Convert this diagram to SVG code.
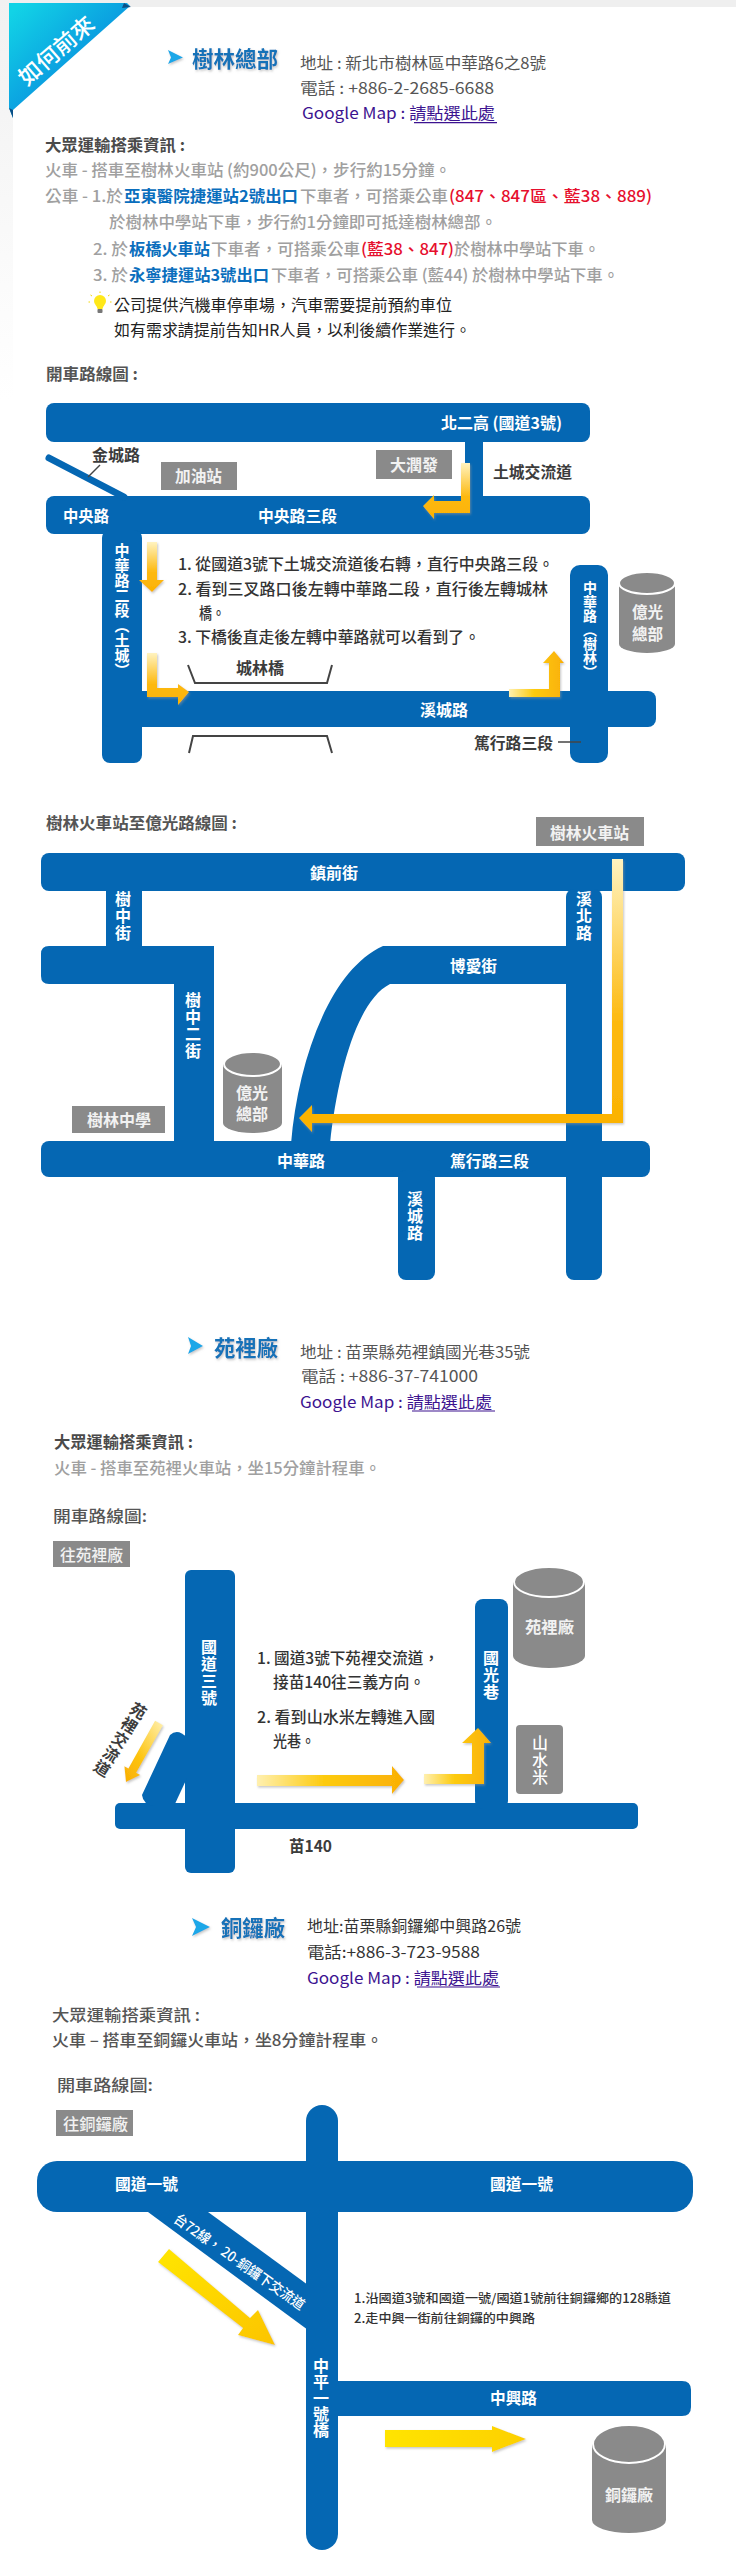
<svg xmlns="http://www.w3.org/2000/svg" width="736" height="2560" viewBox="0 0 736 2560">
<style>
text{font-family:"Noto Sans CJK TC","Noto Sans CJK SC",sans-serif;dominant-baseline:central;font-size:15px}
.h{fill:#4a4a4a;font-weight:700;font-size:16px}
.g{fill:#a0a0a0;font-size:16px;font-weight:500}
.bl{fill:#0a6ebd;font-size:16px;font-weight:700}
.r{fill:#e60f2d;font-size:16px;font-weight:500}
.k{fill:#222;font-size:16px}
.a{fill:#555;font-size:15.5px}
.p{fill:#3c1390;font-size:15.5px}
.title{fill:#1372b8;font-size:22px;font-weight:700;filter:url(#soft)}
.w{fill:#fff;font-weight:700;font-size:16px}
.lb{fill:#f2f2f2;font-weight:700;font-size:16px}
.d{fill:#3c3c3c;font-weight:700;font-size:16px}
.i{fill:#333;font-weight:500;font-size:15.5px}
.v{writing-mode:vertical-rl;text-orientation:upright;text-anchor:middle;fill:#fff;font-weight:700;font-size:16px;letter-spacing:1px}
.road{fill:#0567b3}
.box{fill:#8a8a8a}
.cyl{fill:#8a8a8a}
.top{fill:#8a8a8a;stroke:#fff;stroke-width:2}
.line{fill:none;stroke:#444;stroke-width:2}
.thin{fill:none;stroke:#444;stroke-width:1.5}
.ul{stroke:#3c1390;stroke-width:1.2}
.chev{fill:#1ba7e8;filter:url(#soft)}
.arrow{filter:url(#soft)}
</style>
<defs>
<filter id="soft" x="-20%" y="-20%" width="150%" height="150%"><feDropShadow dx="1" dy="1.5" stdDeviation="1.2" flood-color="#999" flood-opacity=".55"/></filter>
<linearGradient id="strip" x1="0" y1="0" x2="0" y2="1"><stop offset="0" stop-color="#f1f1f1"/><stop offset="1" stop-color="#fff"/></linearGradient>
<linearGradient id="rib" x1="0" y1="0" x2="1" y2="1"><stop offset=".05" stop-color="#12d3e6"/><stop offset=".55" stop-color="#0a9be0"/><stop offset="1" stop-color="#0876c8"/></linearGradient>
<linearGradient id="vA" x1="0" y1="0" x2="0" y2="1"><stop offset="0" stop-color="#fff3c0"/><stop offset=".6" stop-color="#fdb90f"/><stop offset="1" stop-color="#fbb203"/></linearGradient>
<linearGradient id="hA" x1="0" y1="0" x2="1" y2="0"><stop offset="0" stop-color="#fff0b0"/><stop offset=".45" stop-color="#fdcb10"/><stop offset="1" stop-color="#fab005"/></linearGradient>
<linearGradient id="dA" x1="1" y1="0" x2="0" y2="1"><stop offset="0" stop-color="#fff0b0"/><stop offset=".6" stop-color="#fdc40f"/><stop offset="1" stop-color="#f9ae03"/></linearGradient>
<linearGradient id="yD" x1="0" y1="0" x2="1" y2="1"><stop offset="0" stop-color="#ffe600"/><stop offset="1" stop-color="#fcc400"/></linearGradient>
<linearGradient id="yH" x1="0" y1="0" x2="1" y2="0"><stop offset="0" stop-color="#ffe400"/><stop offset="1" stop-color="#fdd000"/></linearGradient>
</defs>

<g id="background">
<rect x="0" y="0" width="736" height="7" fill="#efefef"/>
<rect x="0" y="0" width="13" height="400" fill="url(#strip)"/>
</g>

<g id="ribbon">
<polygon points="9,3 127,3 130,6 13,110 13,118 9,108" fill="url(#rib)"/>
<polygon points="9,108 13,110 13,118" fill="#0a4f86"/>
<polygon points="124,3 131,7 122,8" fill="#0a4f86"/>
<text transform="translate(55,49) rotate(-41)" text-anchor="middle" textLength="92" lengthAdjust="spacingAndGlyphs" style="font-size:22px;fill:#fff;font-weight:500">如何前來</text>
</g>

<g id="shulin-header">
<polygon class="chev" points="168,50 183,57.5 168,64 171,57.5"/>
<text class="title" x="192" y="57" textLength="86" lengthAdjust="spacingAndGlyphs">樹林總部</text>
<text class="a" x="300" y="62" textLength="246" lengthAdjust="spacingAndGlyphs">地址 : 新北市樹林區中華路6之8號</text>
<text class="a" x="300" y="87" textLength="194" lengthAdjust="spacingAndGlyphs">電話 : +886-2-2685-6688</text>
<text class="p" x="302" y="112" textLength="193" lengthAdjust="spacingAndGlyphs">Google Map : 請點選此處</text>
<line class="ul" x1="414" y1="122.7" x2="497" y2="122.7"/>
</g>

<g id="shulin-transit">
<text class="h" x="45" y="144" textLength="140" lengthAdjust="spacingAndGlyphs">大眾運輸搭乘資訊 :</text>
<text class="g" x="45" y="169" textLength="406" lengthAdjust="spacingAndGlyphs">火車 - 搭車至樹林火車站 (約900公尺)，步行約15分鐘。</text>
<text class="g" x="45" y="195" textLength="78" lengthAdjust="spacingAndGlyphs">公車 - 1.於</text>
<text class="bl" x="124" y="195" textLength="174" lengthAdjust="spacingAndGlyphs">亞東醫院捷運站2號出口</text>
<text class="g" x="300" y="195" textLength="148" lengthAdjust="spacingAndGlyphs">下車者，可搭乘公車</text>
<text class="r" x="449" y="195" textLength="203" lengthAdjust="spacingAndGlyphs">(847、847區、藍38、889)</text>
<text class="g" x="109" y="221" textLength="388" lengthAdjust="spacingAndGlyphs">於樹林中學站下車，步行約1分鐘即可抵達樹林總部。</text>
<text class="g" x="93" y="248" textLength="35" lengthAdjust="spacingAndGlyphs">2. 於</text>
<text class="bl" x="129" y="248" textLength="81" lengthAdjust="spacingAndGlyphs">板橋火車站</text>
<text class="g" x="211" y="248" textLength="149" lengthAdjust="spacingAndGlyphs">下車者，可搭乘公車</text>
<text class="r" x="361" y="248" textLength="93" lengthAdjust="spacingAndGlyphs">(藍38、847)</text>
<text class="g" x="454" y="248" textLength="146" lengthAdjust="spacingAndGlyphs">於樹林中學站下車。</text>
<text class="g" x="93" y="274" textLength="35" lengthAdjust="spacingAndGlyphs">3. 於</text>
<text class="bl" x="129" y="274" textLength="140" lengthAdjust="spacingAndGlyphs">永寧捷運站3號出口</text>
<text class="g" x="271" y="274" textLength="348" lengthAdjust="spacingAndGlyphs">下車者，可搭乘公車 (藍44) 於樹林中學站下車。</text>
</g>

<g id="bulb">
<circle cx="100" cy="301" r="6" fill="#ffe81a"/>
<polygon points="96,305 104,305 102,310 98,310" fill="#ffe81a"/>
<rect x="97.5" y="309" width="5" height="4" rx="1" fill="#777"/>
<path d="M100,293v-1.5M92,296l-1.5,-1M108,296l1.5,-1M90,302h-1.5M110,302h1.5" stroke="#f2d70a" stroke-width="1" fill="none"/>
</g>
<g id="shulin-parking">
<text class="k" x="114" y="304" textLength="338" lengthAdjust="spacingAndGlyphs">公司提供汽機車停車場，汽車需要提前預約車位</text>
<text class="k" x="114" y="329" textLength="357" lengthAdjust="spacingAndGlyphs">如有需求請提前告知HR人員，以利後續作業進行。</text>
</g>
<text id="shulin-drive-title" class="h" x="46" y="373" textLength="92" lengthAdjust="spacingAndGlyphs" style="fill:#555">開車路線圖 :</text>

<g id="map1-roads">
<rect class="road" x="46" y="403" width="544" height="39" rx="8"/>
<rect class="road" x="465" y="440" width="18" height="58"/>
<rect class="road" x="46" y="496" width="544" height="38" rx="8"/>
<rect class="road" x="102" y="530" width="40" height="233" rx="8"/>
<rect class="road" x="102" y="691" width="554" height="36" rx="8"/>
<rect class="road" x="570" y="565" width="38" height="198" rx="10"/>
<path d="M49,458L124,497" fill="none" stroke="#0567b3" stroke-width="7" stroke-linecap="round"/>
<path class="thin" d="M100,465L88,477"/>
<polyline class="line" points="188,665 195,683 327,683 332,665"/>
<polyline class="line" points="189,753 193,736 327,736 332,753"/>
<line class="thin" x1="558" y1="742" x2="581" y2="742"/>
</g>
<g id="map1-labels">
<text class="w" x="441" y="422" textLength="121" lengthAdjust="spacingAndGlyphs">北二高 (國道3號)</text>
<text class="d" x="92" y="454" textLength="48" lengthAdjust="spacingAndGlyphs">金城路</text>
<text class="d" x="493" y="471" textLength="79" lengthAdjust="spacingAndGlyphs">土城交流道</text>
<text class="w" x="63" y="515" textLength="46" lengthAdjust="spacingAndGlyphs">中央路</text>
<text class="w" x="258" y="515" textLength="79" lengthAdjust="spacingAndGlyphs">中央路三段</text>
<text class="v" x="122" y="610" style="font-size:15px;letter-spacing:0">中華路二段（土城）</text>
<text class="v" x="590" y="630" style="font-size:14px;letter-spacing:0">中華路（樹林）</text>
<text class="d" x="236" y="667" textLength="48" lengthAdjust="spacingAndGlyphs">城林橋</text>
<text class="w" x="420" y="709" textLength="48" lengthAdjust="spacingAndGlyphs">溪城路</text>
<text class="d" x="474" y="742" textLength="79" lengthAdjust="spacingAndGlyphs">篤行路三段</text>
</g>
<g id="gas-station"><rect class="box" x="161" y="462" width="76" height="28"/><text class="lb" x="175" y="475" textLength="47" lengthAdjust="spacingAndGlyphs">加油站</text></g>
<g id="rt-mart"><rect class="box" x="376" y="450" width="76" height="29"/><text class="lb" x="390" y="464" textLength="48" lengthAdjust="spacingAndGlyphs">大潤發</text></g>
<g id="map1-steps">
<text class="i" x="178" y="563" textLength="376" lengthAdjust="spacingAndGlyphs">1. 從國道3號下土城交流道後右轉，直行中央路三段。</text>
<text class="i" x="178" y="588" textLength="370" lengthAdjust="spacingAndGlyphs">2. 看到三叉路口後左轉中華路二段，直行後左轉城林</text>
<text class="i" x="199" y="612" textLength="26" lengthAdjust="spacingAndGlyphs">橋。</text>
<text class="i" x="178" y="636" textLength="302" lengthAdjust="spacingAndGlyphs">3. 下橋後直走後左轉中華路就可以看到了。</text>
</g>
<g id="yiguang-hq-1">
<path class="cyl" d="M619,583V644A28,9 0 0 0 675,644V583Z"/>
<ellipse class="top" cx="647" cy="583" rx="28" ry="11"/>
<text class="lb" x="632" y="611" textLength="31" lengthAdjust="spacingAndGlyphs">億光</text>
<text class="lb" x="632" y="633" textLength="31" lengthAdjust="spacingAndGlyphs">總部</text>
</g>
<g id="map1-connectors" class="arrow">
<polygon fill="url(#vA)" points="470,463 470,513 434,513 434,519 423,506 434,495 434,501 461,501 461,463"/>
<polygon fill="url(#vA)" points="147,542 157,542 157,580 164,580 152,592 139,580 147,580"/>
<polygon fill="url(#vA)" points="147,653 157,653 157,688 178,688 178,684 189,692 178,705 178,697 147,697"/>
<polygon fill="url(#hA)" points="509,689 549,689 549,663 543,663 554,651 564,663 560,663 560,697 509,697"/>
</g>

<text id="map2-title" class="h" x="46" y="822" textLength="191" lengthAdjust="spacingAndGlyphs" style="fill:#555">樹林火車站至億光路線圖 :</text>
<g id="shulin-station"><rect class="box" x="536" y="817" width="108" height="29"/><text class="lb" x="550" y="832" textLength="79" lengthAdjust="spacingAndGlyphs">樹林火車站</text></g>
<g id="map2-roads">
<rect class="road" x="41" y="853" width="644" height="38" rx="8"/>
<rect class="road" x="106" y="889" width="36" height="60"/>
<path class="road" d="M49,946H214V1144H174V984H49Q41,984 41,976V954Q41,946 49,946Z"/>
<rect class="road" x="566" y="889" width="36" height="391" rx="8"/>
<rect class="road" x="41" y="1141" width="609" height="36" rx="8"/>
<rect class="road" x="398" y="1170" width="37" height="110" rx="8"/>
<path class="road" d="M568,946H383C330,970 298,1060 291,1144H330C338,1070 358,1000 390,984H568Z"/>
</g>
<g id="map2-labels">
<text class="w" x="310" y="872" textLength="48" lengthAdjust="spacingAndGlyphs">鎮前街</text>
<text class="v" x="123" y="916">樹中街</text>
<text class="v" x="584" y="916">溪北路</text>
<text class="w" x="450" y="965" textLength="47" lengthAdjust="spacingAndGlyphs">博愛街</text>
<text class="v" x="193" y="1026">樹中二街</text>
<text class="w" x="277" y="1160" textLength="48" lengthAdjust="spacingAndGlyphs">中華路</text>
<text class="w" x="450" y="1160" textLength="79" lengthAdjust="spacingAndGlyphs">篤行路三段</text>
<text class="v" x="415" y="1216">溪城路</text>
</g>
<g id="shulin-school"><rect class="box" x="72" y="1106" width="93" height="27"/><text class="lb" x="87" y="1119" textLength="64" lengthAdjust="spacingAndGlyphs">樹林中學</text></g>
<g id="yiguang-hq-2">
<path class="cyl" d="M223,1064V1123A29.5,10 0 0 0 282,1123V1064Z"/>
<ellipse class="top" cx="252.5" cy="1064" rx="28.5" ry="12"/>
<text class="lb" x="236" y="1092" textLength="32" lengthAdjust="spacingAndGlyphs">億光</text>
<text class="lb" x="236" y="1113" textLength="32" lengthAdjust="spacingAndGlyphs">總部</text>
</g>
<g id="map2-connectors" class="arrow">
<polygon fill="url(#vA)" points="612,859 623,859 623,1123 312,1123 312,1132 299,1118 312,1105 312,1114 612,1114"/>
</g>

<g id="yuanli-header">
<polygon class="chev" points="188,1337 203,1346 188,1354 191,1346"/>
<text class="title" x="214" y="1346" textLength="64" lengthAdjust="spacingAndGlyphs">苑裡廠</text>
<text class="a" x="300" y="1351" textLength="230" lengthAdjust="spacingAndGlyphs">地址 : 苗栗縣苑裡鎮國光巷35號</text>
<text class="a" x="301" y="1375" textLength="177" lengthAdjust="spacingAndGlyphs">電話 : +886-37-741000</text>
<text class="p" x="300" y="1401" textLength="192" lengthAdjust="spacingAndGlyphs">Google Map : 請點選此處</text>
<line class="ul" x1="412" y1="1411" x2="495" y2="1411"/>
</g>
<g id="yuanli-transit">
<text class="h" x="54" y="1441" textLength="139" lengthAdjust="spacingAndGlyphs">大眾運輸搭乘資訊 :</text>
<text class="g" x="54" y="1467" textLength="327" lengthAdjust="spacingAndGlyphs">火車 - 搭車至苑裡火車站，坐15分鐘計程車。</text>
<text class="h" x="53" y="1515" textLength="94" lengthAdjust="spacingAndGlyphs" style="fill:#555;font-weight:500">開車路線圖:</text>
</g>
<g id="to-yuanli"><rect class="box" x="53" y="1541" width="77" height="26"/><text class="lb" x="60" y="1554" textLength="63" lengthAdjust="spacingAndGlyphs" style="font-weight:500">往苑裡廠</text></g>
<g id="map3-roads">
<rect class="road" x="185" y="1570" width="50" height="303" rx="6"/>
<rect class="road" x="115" y="1803" width="523" height="26" rx="5"/>
<rect class="road" x="475" y="1599" width="33" height="210" rx="8"/>
<path class="road" d="M187,1738Q178,1728 170,1735L142,1795Q143,1805 155,1806H174L187,1778Z"/>
</g>
<g id="map3-labels">
<text class="v" x="209" y="1673">國道三號</text>
<text class="v" x="491" y="1675">國光巷</text>
<text class="d" x="289" y="1845" textLength="43" lengthAdjust="spacingAndGlyphs">苗140</text>
<text class="v" transform="translate(120,1740) rotate(32)" x="0" y="0" style="fill:#3c3c3c">苑裡交流道</text>
</g>
<g id="map3-steps">
<text class="i" x="257" y="1657" textLength="182" lengthAdjust="spacingAndGlyphs">1. 國道3號下苑裡交流道，</text>
<text class="i" x="273" y="1681" textLength="152" lengthAdjust="spacingAndGlyphs">接苗140往三義方向。</text>
<text class="i" x="257" y="1716" textLength="178" lengthAdjust="spacingAndGlyphs">2. 看到山水米左轉進入國</text>
<text class="i" x="273" y="1740" textLength="42" lengthAdjust="spacingAndGlyphs">光巷。</text>
</g>
<g id="yuanli-factory">
<path class="cyl" d="M513,1582V1656A36,12 0 0 0 585,1656V1582Z"/>
<ellipse class="top" cx="549" cy="1582" rx="35" ry="15"/>
<text class="lb" x="525" y="1626" textLength="49" lengthAdjust="spacingAndGlyphs">苑裡廠</text>
</g>
<g id="shanshuimi"><rect class="box" x="516" y="1725" width="47" height="69" rx="4"/><text class="v" x="540" y="1760" style="font-weight:500">山水米</text></g>
<g id="map3-connectors" class="arrow">
<polygon fill="url(#dA)" points="162.9,1725.2 136.2,1772.8 140.2,1775 126,1782 124.4,1766.2 128.4,1768.4 155.1,1720.8"/>
<polygon fill="url(#hA)" points="257,1775 392,1775 392,1766 404,1780 392,1794 392,1786 257,1786"/>
<polygon fill="url(#hA)" points="424,1774 472,1774 472,1743 462,1743 478,1728 491,1743 484,1743 484,1784 424,1784"/>
</g>

<g id="tongluo-header">
<polygon class="chev" points="192,1918 210,1927 192,1936 196,1927"/>
<text class="title" x="221" y="1926" textLength="64" lengthAdjust="spacingAndGlyphs">銅鑼廠</text>
<text class="a" x="307" y="1925" textLength="214" lengthAdjust="spacingAndGlyphs" style="fill:#333">地址:苗栗縣銅鑼鄉中興路26號</text>
<text class="a" x="307" y="1951" textLength="173" lengthAdjust="spacingAndGlyphs" style="fill:#333">電話:+886-3-723-9588</text>
<text class="p" x="307" y="1977" textLength="192" lengthAdjust="spacingAndGlyphs">Google Map : 請點選此處</text>
<line class="ul" x1="417" y1="1987" x2="500" y2="1987"/>
</g>
<g id="tongluo-transit">
<text class="h" x="52" y="2014" textLength="148" lengthAdjust="spacingAndGlyphs" style="fill:#555;font-weight:500">大眾運輸搭乘資訊 :</text>
<text class="h" x="52" y="2039" textLength="331" lengthAdjust="spacingAndGlyphs" style="fill:#555;font-weight:500">火車 – 搭車至銅鑼火車站，坐8分鐘計程車。</text>
<text class="h" x="57" y="2084" textLength="96" lengthAdjust="spacingAndGlyphs" style="fill:#555;font-weight:500">開車路線圖:</text>
</g>
<g id="to-tongluo"><rect class="box" x="56" y="2110" width="77" height="26"/><text class="lb" x="63" y="2123" textLength="65" lengthAdjust="spacingAndGlyphs" style="font-weight:500">往銅鑼廠</text></g>
<g id="map4-roads">
<rect class="road" x="306" y="2105" width="32" height="445" rx="16"/>
<rect class="road" x="37" y="2161" width="656" height="51" rx="20"/>
<polygon class="road" points="148,2212 208,2212 308,2285 308,2330"/>
<path class="road" d="M336,2381H682Q691,2381 691,2390V2407Q691,2416 682,2416H336Z"/>
</g>
<g id="map4-labels">
<text class="w" x="115" y="2183" textLength="63" lengthAdjust="spacingAndGlyphs">國道一號</text>
<text class="w" x="490" y="2183" textLength="63" lengthAdjust="spacingAndGlyphs">國道一號</text>
<text class="w" transform="translate(240,2261) rotate(35)" text-anchor="middle" textLength="156" lengthAdjust="spacingAndGlyphs" style="font-size:14px;font-weight:500">台72線， 20-銅鑼下交流道</text>
<text class="v" x="321" y="2398" style="letter-spacing:0">中平一號橋</text>
<text class="w" x="490" y="2397" textLength="47" lengthAdjust="spacingAndGlyphs">中興路</text>
</g>
<g id="map4-steps">
<text class="i" x="354" y="2297" textLength="317" lengthAdjust="spacingAndGlyphs" style="font-size:12.5px">1.沿國道3號和國道一號/國道1號前往銅鑼鄉的128縣道</text>
<text class="i" x="354" y="2317" textLength="181" lengthAdjust="spacingAndGlyphs" style="font-size:12.5px">2.走中興一街前往銅鑼的中興路</text>
</g>
<g id="tongluo-factory">
<path class="cyl" d="M592,2444V2520A37,13 0 0 0 666,2520V2444Z"/>
<ellipse class="top" cx="629" cy="2444" rx="36" ry="19"/>
<text class="lb" x="605" y="2494" textLength="48" lengthAdjust="spacingAndGlyphs">銅鑼廠</text>
</g>
<g id="map4-connectors" class="arrow">
<polygon fill="url(#yD)" points="158,2262 169,2249 250,2318 258,2310 275,2345 238,2335 243,2328"/>
<polygon fill="url(#yH)" points="385,2430 492,2430 492,2426 526,2439 492,2452 492,2447 385,2447"/>
</g>
</svg>
